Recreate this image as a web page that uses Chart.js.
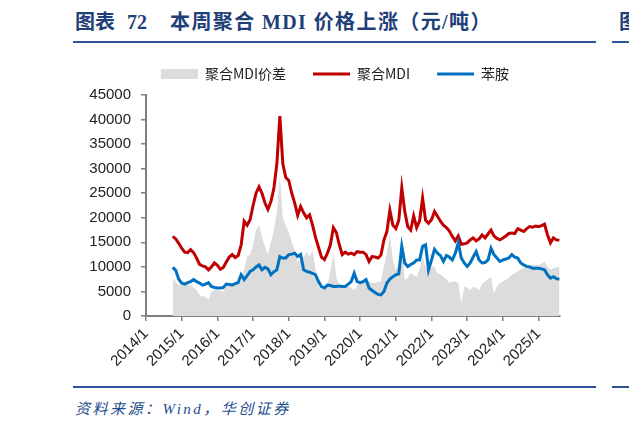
<!DOCTYPE html>
<html lang="zh-CN">
<head>
  <meta charset="UTF-8">
  <title>本周聚合MDI价格上涨</title>
  <style>
    html, body { margin: 0; padding: 0; background: #fff; }
    body { width: 629px; height: 428px; position: relative; overflow: hidden; }
    .title {
      position: absolute; top: 6px; height: 28px; line-height: 28px; white-space: nowrap;
      font: bold 20px "Liberation Serif", "Noto Sans CJK SC", serif; color: #1f3f78;
    }
    .title .sp { display: inline-block; }
    .title .main { letter-spacing: 1.4px; }
    .rule { position: absolute; height: 2px; background: #2f5597; }
    .source {
      position: absolute; left: 75px; top: 397px; white-space: nowrap; letter-spacing: 2.5px;
      font: italic 15px "Liberation Serif", "Noto Sans CJK SC", serif; color: #1f4e8c;
    }
    #box { position: absolute; left: 0; top: 40px; width: 629px; height: 336px; }
  </style>
</head>
<body>
  <div class="title" style="left:75px;">图表<span class="sp" style="width:12px"></span>72<span class="sp" style="width:23px"></span><span class="main">本周聚合 MDI 价格上涨（元/吨）</span></div>
  <div class="rule" style="left:73px; top:41px; width:523px;"></div>
  <div class="title" style="left:619px;">图</div>
  <div class="rule" style="left:612px; top:41px; width:17px;"></div>

  <div id="box"><canvas id="chartCanvas"></canvas></div>

  <div class="rule" style="left:73px; top:386px; width:523px;"></div>
  <div class="rule" style="left:612px; top:386px; width:17px;"></div>
  <div class="source">资料来源：Wind，华创证券</div>

  <script src="https://cdn.jsdelivr.net/npm/chart.js"></script>
  <script>
    // 月度数据，起始 2014/10
    const firstYear = 2014, firstMonth = 10;
    const yearTicks = [2014, 2015, 2016, 2017, 2018, 2019, 2020, 2021, 2022, 2023, 2024, 2025];
    const yTicks = [0, 5000, 10000, 15000, 20000, 25000, 30000, 35000, 40000, 45000];

    // 聚合MDI（元/吨）
    const mdi = [
      16200, 15700, 14800,
      13800, 13000, 12900, 13500, 12900, 11800, 10500, 10200, 10000, 9400, 10000, 10800,
      10300, 9500, 9900, 11000, 12000, 12500, 11900, 12300, 14500, 19300, 18500, 19600,
      22500, 25000, 26300, 25000, 23000, 21700, 23300, 26000, 31000, 40700, 31000, 28200,
      27600, 25000, 23000, 20500, 22300, 21000, 20000, 20600, 18500, 16000, 14000, 12000,
      11500, 12800, 14500, 18000, 17000, 14500, 12500, 13000, 12600, 12800, 12500, 13100,
      13000, 13000, 12500, 11100, 12100, 12000, 11800, 12400, 15500, 17200, 21500, 18500,
      17800, 19500, 26100, 21300, 18200, 17500, 20400, 18000, 19400, 24000, 19500, 18900,
      19600, 21300, 20300, 19300, 18500, 18000, 17300, 16200, 15300, 16300, 14600, 14700,
      14900, 15500, 15900, 15300, 15700, 16500, 15900, 16700, 17500, 16300, 15800, 15500,
      15900, 16300, 16800, 16900, 16800, 17800, 17500, 17200, 17800, 18200, 18100, 18300,
      18200, 18400, 18700, 16500, 14900, 15900, 15500, 15400
    ];

    // 苯胺（元/吨）
    const aniline = [
      9900, 9300, 7500,
      6700, 6500, 6800, 7000, 7400, 7000, 6700, 6300, 6500, 6800, 6000, 5800,
      5700, 5700, 5800, 6500, 6400, 6300, 6600, 6800, 8400, 7400, 8200, 9100,
      9400, 10000, 10400, 9400, 9900, 9600, 8400, 9000, 9400, 12100, 11800, 11800,
      12500, 12600, 12800, 12100, 12500, 9400, 9100, 8900, 8700, 8400, 7000, 6000,
      5700, 6300, 6200, 6000, 6000, 6100, 6000, 6000, 6500, 7000, 8700, 7000,
      6800, 7000, 7400, 5700, 5200, 4800, 4400, 4300, 5000, 6700, 7500, 8000,
      8400, 8600, 14200, 10800, 10100, 10500, 10800, 11400, 11400, 14200, 14500, 9400,
      11400, 13600, 12800, 12300, 11100, 12300, 12000, 11400, 12800, 14900, 11800, 10800,
      10100, 10800, 12000, 13100, 11400, 10800, 10900, 11400, 13800, 12500, 11800, 11100,
      11400, 11600, 11800, 12500, 12000, 11800, 10800, 10400, 10100, 10000, 9700, 9700,
      9700, 9600, 9400, 8400, 7700, 8000, 7600, 7500
    ];

    // 聚合MDI价差（元/吨）
    const spread = [
      7700, 7000, 6300,
      6500, 6700, 6500, 6300, 5800, 5300, 4300, 4000, 3900, 3300, 5000, 5300,
      5300, 5100, 5000, 6000, 6100, 6300, 6500, 6700, 7000, 9400, 12100, 12500,
      14500, 17500, 18600, 16000, 14200, 12500, 15000, 17500, 21000, 28500, 20000, 18600,
      17000, 15000, 13500, 11000, 11500, 12000, 13100, 12100, 13500, 9500, 6000, 5500,
      5300, 6300, 9000, 12800, 8000, 6000, 6000, 6000, 6000, 5800, 5300, 6200,
      6700, 7000, 7400, 7000, 6700, 6700, 7000, 7000, 10100, 13000, 16500, 11500,
      9400, 10500, 14200, 7400, 7800, 8700, 8300, 8000, 9500, 12100, 10100, 9100,
      10000, 10100, 8700, 8500, 8000, 7500, 6700, 7000, 7000, 6700, 2600, 6000,
      5800, 5300, 6000, 5700, 5300, 6500, 7000, 7500, 8000, 4600, 6000, 6700,
      7000, 7400, 7800, 8400, 8700, 9100, 9500, 9800, 10100, 10300, 10400, 10400,
      10400, 10700, 11100, 10000, 9400, 9700, 9900, 10100
    ];

    // 月份 -> 小数年
    const xs = mdi.map((_, i) => firstYear + (firstMonth - 1 + i) / 12);
    const pts = arr => arr.map((v, i) => ({ x: xs[i], y: v }));

    const axisColor = '#7f7f7f';
    const tickFont = { family: '"Liberation Sans", Arial, sans-serif', size: 15 };

    // 图例：固定高度，并向右平移到原图的位置
    const legendPlace = {
      id: 'legendPlace',
      beforeInit(chart) {
        const fit = chart.legend.fit;
        chart.legend.fit = function () {
          fit.bind(chart.legend)();
          this.height = 55;
        };
      },
      afterLayout(chart) {
        chart.legend.left += 55;
        chart.legend.right += 55;
      }
    };

    const ctx = document.getElementById('chartCanvas').getContext('2d');
    new Chart(ctx, {
      type: 'line',
      data: {
        datasets: [
          {
            label: '聚合MDI价差',
            data: pts(spread),
            backgroundColor: '#dcdcdc',
            borderColor: '#dcdcdc',
            borderWidth: 0,
            fill: 'origin',
            pointRadius: 0,
            pointStyle: 'rect',
            tension: 0,
            order: 3
          },
          {
            label: '聚合MDI',
            data: pts(mdi),
            borderColor: '#c00000',
            backgroundColor: '#c00000',
            borderWidth: 3,
            pointRadius: 0,
            pointStyle: 'line',
            tension: 0,
            order: 2
          },
          {
            label: '苯胺',
            data: pts(aniline),
            borderColor: '#0070c0',
            backgroundColor: '#0070c0',
            borderWidth: 3,
            pointRadius: 0,
            pointStyle: 'line',
            tension: 0,
            order: 1
          }
        ]
      },
      plugins: [legendPlace],
      options: {
        responsive: true,
        maintainAspectRatio: false,
        animation: false,
        layout: { padding: { left: 0, right: 69, top: 0, bottom: 0 } },
        plugins: {
          legend: {
            position: 'top',
            labels: {
              usePointStyle: true,
              pointStyleWidth: 37,
              boxHeight: 10,
              padding: 27,
              color: '#222',
              font: { family: '"Noto Sans CJK SC", sans-serif', size: 14 },
              sort: (a, b) => a.datasetIndex - b.datasetIndex
            }
          },
          tooltip: { enabled: false }
        },
        scales: {
          x: {
            type: 'linear',
            min: 2014,
            max: 2025.6,
            afterBuildTicks: s => { s.ticks = yearTicks.map(v => ({ value: v })); },
            afterFit: s => { s.height = 60; },
            grid: { drawOnChartArea: false, drawTicks: true, tickLength: 5, color: axisColor, lineWidth: 1.5 },
            border: { color: axisColor, width: 2 },
            ticks: {
              autoSkip: false,
              maxRotation: 45,
              minRotation: 45,
              padding: 4,
              color: '#222',
              font: tickFont,
              callback: v => v + '/1'
            }
          },
          y: {
            min: 0,
            max: 45000,
            afterBuildTicks: s => { s.ticks = yTicks.map(v => ({ value: v })); },
            afterFit: s => { s.width = 146; },
            grid: { drawOnChartArea: false, drawTicks: true, tickLength: 5, color: axisColor, lineWidth: 1.5 },
            border: { color: axisColor, width: 2 },
            ticks: {
              padding: 10,
              color: '#222',
              font: tickFont,
              callback: v => String(v)
            }
          }
        }
      }
    });
  </script>
</body>
</html>
